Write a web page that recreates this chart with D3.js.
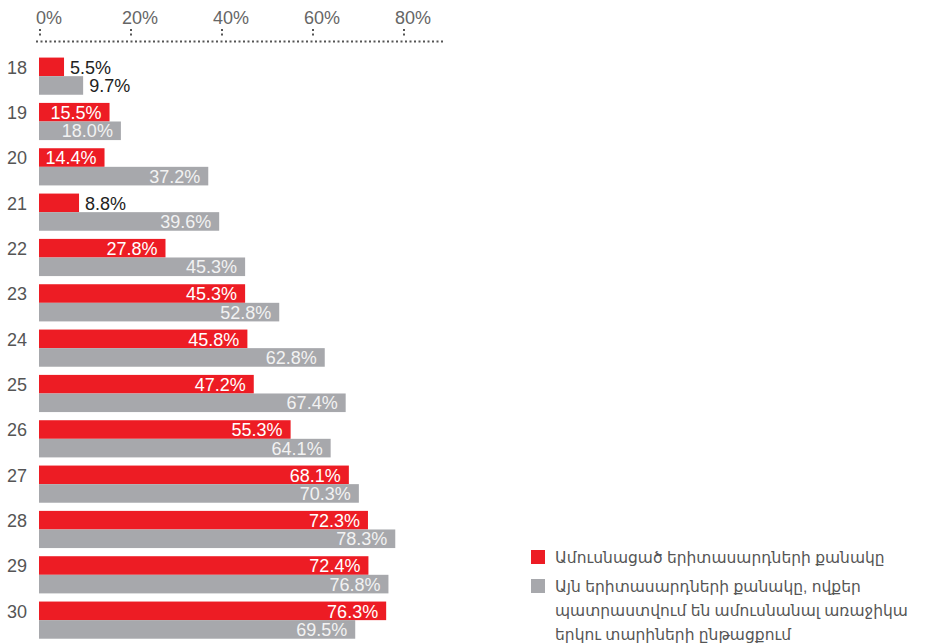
<!DOCTYPE html>
<html>
<head>
<meta charset="utf-8">
<script src="https://cdn.jsdelivr.net/npm/d3@7"></script>
<style>
  body { margin: 0; background: #fff; }
  text { font-family: "Liberation Sans", Arial, "DejaVu Sans", sans-serif; }
</style>
</head>
<body>
<svg id="chart" width="929" height="644"></svg>
<script>
// ages on the y axis
const ages = ["18", "19", "20", "21", "22", "23", "24", "25", "26", "27", "28", "29", "30"];
// married share (red)
const married = [5.5, 15.5, 14.4, 8.8, 27.8, 45.3, 45.8, 47.2, 55.3, 68.1, 72.3, 72.4, 76.3];
// planning to marry within two years (grey)
const planning = [9.7, 18.0, 37.2, 39.6, 45.3, 52.8, 62.8, 67.4, 64.1, 70.3, 78.3, 76.8, 69.5];
const ticks = [0, 20, 40, 60, 80];
const legendItems = [
  ["Ամուսնացած երիտասարդների քանակը"],
  ["Այն երիտասարդների քանակը, ովքեր", "պատրաստվում են ամուսնանալ առաջիկա", "երկու տարիների ընթացքում"]
];

const red = "#ed1c24", grey = "#a7a8ac";

const svg = d3.select("#chart");

const x = d3.scaleLinear().domain([0, 80]).range([39, 403]);
const y = d3.scaleBand().domain(ages).range([53.5, 597.5 + 45.3]).paddingInner(0.18).paddingOuter(0.09);

// top axis, dotted
const axis = svg.append("g");
axis.append("line")
  .attr("x1", 36).attr("x2", 443).attr("y1", 41.5).attr("y2", 41.5)
  .attr("stroke", "#555").attr("stroke-width", 2).attr("stroke-dasharray", "2,2.5");
axis.selectAll(".tk").data(ticks).enter().append("line")
  .attr("x1", d => x(d) + 1).attr("x2", d => x(d) + 1)
  .attr("y1", 29).attr("y2", 37)
  .attr("stroke", "#555").attr("stroke-width", 2).attr("stroke-dasharray", "2,2.5");
axis.selectAll(".tl").data(ticks).enter().append("text")
  .attr("x", d => x(d) + 10).attr("y", 24)
  .attr("text-anchor", "middle")
  .attr("font-size", 18).attr("fill", "#666")
  .text(d => d + "%");

const rows = ages.map((a, i) => ({ age: a, m: married[i], p: planning[i] }));
const h = y.bandwidth() / 2;

const g = svg.selectAll(".row").data(rows).enter().append("g")
  .attr("transform", d => `translate(0,${y(d.age)})`);

g.append("text")
  .attr("x", 7).attr("y", 16)
  .attr("font-size", 18).attr("fill", "#555")
  .text(d => d.age);

function bars(key, color, off, txtColor) {
  g.append("rect")
    .attr("x", x(0)).attr("y", off)
    .attr("width", d => x(d[key]) - x(0)).attr("height", h)
    .attr("fill", color);
  g.append("text")
    .attr("y", off + 16)
    .attr("font-size", 18)
    .each(function (d) {
      const w = x(d[key]) - x(0);
      const inside = w > 55;
      d3.select(this)
        .attr("x", inside ? x(d[key]) - 8 : x(d[key]) + 6)
        .attr("text-anchor", inside ? "end" : "start")
        .attr("fill", inside ? txtColor : "#222");
    })
    .text(d => d[key].toFixed(1) + "%");
}
bars("m", red, 0, "#fff");
bars("p", grey, h, "#f2f2f2");

// legend
const lg = svg.append("g").attr("transform", "translate(531,550)");
const colors = [red, grey];
let ly = 0;
legendItems.forEach((lines, i) => {
  lg.append("rect").attr("x", 0).attr("y", ly).attr("width", 14).attr("height", 14).attr("fill", colors[i]);
  lines.forEach((t, j) => {
    lg.append("text")
      .attr("x", 24).attr("y", ly + 13 + j * 24)
      .attr("font-size", 15.5).attr("fill", "#555")
      .text(t);
  });
  ly += 29;
});
</script>
</body>
</html>
